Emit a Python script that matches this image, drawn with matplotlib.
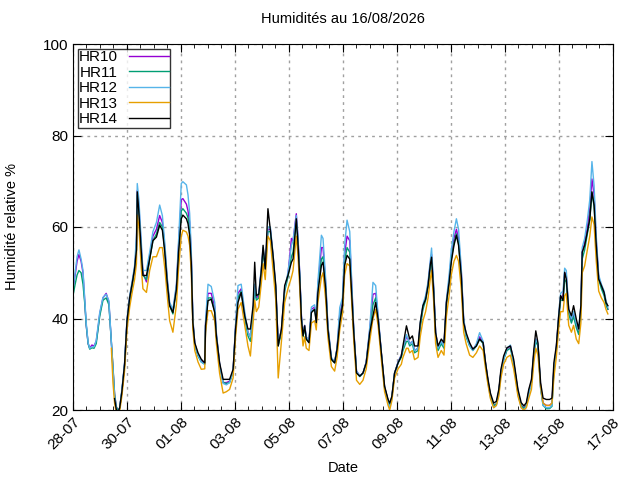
import numpy as np
import pandas as pd
import matplotlib
matplotlib.use("Agg")
import matplotlib.pyplot as plt
import matplotlib.dates as mdates

plt.rcParams['font.family'] = ['Liberation Sans', 'DejaVu Sans']

nan = np.nan

# time in days since 28-07-2026 00:00
t_days = [0.00, 0.08, 0.15, 0.22, 0.30, 0.37, 0.44, 0.49, 0.56, 0.62, 0.70, 0.78, 0.86, 0.93, 0.99,
          1.11, 1.23, 1.33, 1.42, 1.48, 1.54, 1.60, 1.67, 1.73, 1.81, 1.91, 2.00, 2.10, 2.20, 2.28,
          2.35, 2.38, 2.44, 2.53, 2.59, 2.72, 2.84, 2.96, 3.09, 3.21, 3.31, 3.40, 3.49, 3.58, 3.70,
          3.83, 3.91, 4.01, 4.07, 4.20, 4.26, 4.32, 4.38, 4.44, 4.51, 4.63, 4.75, 4.88, 4.91, 5.00,
          5.12, 5.25, 5.31, 5.43, 5.56, 5.68, 5.80, 5.93, 6.02, 6.11, 6.23, 6.36, 6.48, 6.57, 6.67,
          6.73, 6.79, 6.88, 6.98, 7.04, 7.12, 7.22, 7.31, 7.41, 7.51, 7.60, 7.72, 7.84, 7.96, 8.09,
          8.15, 8.27, 8.33, 8.40, 8.46, 8.52, 8.58, 8.64, 8.74, 8.83, 8.95, 9.01, 9.07, 9.20, 9.26,
          9.36, 9.44, 9.57, 9.69, 9.78, 9.88, 9.98, 10.06, 10.15, 10.25, 10.32, 10.40, 10.50, 10.62, 10.74,
          10.86, 10.99, 11.11, 11.21, 11.30, 11.42, 11.54, 11.67, 11.73, 11.81, 11.91, 12.04, 12.16, 12.22, 12.35,
          12.41, 12.47, 12.57, 12.65, 12.78, 12.86, 12.96, 13.06, 13.15, 13.23, 13.28, 13.36, 13.43, 13.52, 13.64,
          13.74, 13.83, 13.93, 14.01, 14.11, 14.20, 14.28, 14.38, 14.47, 14.56, 14.69, 14.81, 14.94, 15.06, 15.19,
          15.28, 15.37, 15.46, 15.58, 15.68, 15.77, 15.85, 15.95, 16.07, 16.20, 16.32, 16.48, 16.60, 16.70, 16.79,
          16.88, 16.98, 17.07, 17.14, 17.22, 17.32, 17.41, 17.53, 17.65, 17.74, 17.81, 17.90, 17.99, 18.06, 18.15,
          18.21, 18.27, 18.36, 18.46, 18.54, 18.64, 18.73, 18.81, 18.86, 18.95, 19.05, 19.14, 19.22, 19.30, 19.38,
          19.47, 19.57, 19.67, 19.74, 19.81]

hr10 = [46.5, 49.5, 52.5, 54.0, 52.5, 50.0, 43.5, 38.5, 34.5, 33.5, 34.2, 34.0, 35.0, 38.0, 41.0,
        44.5, 45.5, 43.5, 35.0, 29.5, 23.5, 20.8, 19.7, 20.5, 24.0, 30.0, 39.5, 44.5, 48.0, 51.0,
        56.0, 68.0, 64.5, 55.5, 50.0, 48.0, 53.5, 58.0, 59.5, 62.5, 61.0, 55.5, 48.5, 43.0, 41.5,
        47.0, 56.0, 66.0, 66.2, 65.0, 63.5, 61.0, 54.0, 39.5, 34.5, 32.0, 30.8, 30.2, 39.0, 45.5,
        45.5, 42.5, 36.5, 30.0, 26.0, 26.0, 26.3, 28.5, 38.0, 45.5, 46.5, 40.8, 37.0, 36.0, 41.5,
        47.0, 44.5, 45.0, 51.0, 55.0, 51.5, 59.5, 59.5, 53.5, 46.5, 34.5, 37.5, 46.5, 49.5, 57.5,
        57.0, 62.9, 58.0, 49.5, 40.5, 36.5, 38.5, 36.0, 35.0, 42.0, 42.5, 40.0, 47.0, 55.5, 55.5,
        47.5, 38.2, 31.3, 30.5, 33.5, 41.0, 43.5, 54.0, 58.0, 57.0, 47.5, 37.2, 28.5, 27.5, 28.0,
        30.5, 37.5, 45.3, 45.5, 40.5, 32.5, 25.0, 22.0, 21.0, 22.8, 28.0, 30.5, 32.0, 33.5, 36.0,
        35.5, 34.5, 35.0, 33.0, 33.5, 38.5, 42.5, 44.5, 47.5, 52.0, 54.0, 46.5, 37.0, 33.5, 35.0,
        34.0, 43.5, 48.5, 53.5, 57.5, 59.5, 57.5, 50.5, 39.5, 36.5, 34.2, 33.2, 34.3, 36.0, 34.8,
        30.2, 26.3, 23.2, 21.0, 21.3, 24.0, 28.3, 31.2, 33.3, 34.0, 30.5, 24.0, 21.0, 20.5, 21.0,
        24.0, 26.3, 32.5, 35.5, 34.2, 25.0, 21.5, 21.0, 21.0, 21.5, 29.0, 33.5, 40.5, 44.5, 45.0,
        50.0, 49.5, 41.5, 39.5, 41.0, 38.5, 37.0, 42.0, 54.5, 56.5, 60.0, 64.0, 70.5, 67.0, 57.0,
        49.0, 47.0, 45.5, 43.5, 42.0]

hr11 = [45.0, 47.5, 49.5, 50.5, 50.0, 47.5, 43.0, 38.5, 34.5, 33.3, 33.6, 33.5, 34.5, 37.8, 40.5,
        44.0, 44.5, 43.0, 35.0, 29.5, 23.5, 20.8, 19.8, 20.5, 24.0, 29.8, 39.0, 44.0, 47.5, 50.8,
        55.0, 67.0, 63.5, 54.5, 49.5, 48.5, 53.0, 57.0, 58.5, 61.0, 60.0, 55.0, 48.0, 42.8, 41.0,
        46.5, 55.0, 63.5, 64.0, 63.0, 62.0, 59.5, 53.0, 39.0, 34.2, 31.8, 30.5, 30.0, 38.5, 44.5,
        44.5, 41.5, 36.0, 29.8, 26.0, 25.8, 26.0, 28.3, 37.5, 44.5, 46.0, 40.2, 36.2, 35.0, 41.0,
        46.5, 44.0, 44.5, 50.5, 54.5, 51.0, 59.0, 59.0, 53.0, 46.0, 34.0, 37.0, 46.0, 49.0, 53.5,
        54.5, 61.5, 57.0, 49.0, 40.0, 36.0, 38.0, 35.5, 34.8, 41.5, 42.0, 39.5, 46.5, 53.0, 53.5,
        47.0, 38.0, 31.0, 30.3, 33.3, 40.0, 43.0, 52.5, 55.5, 54.5, 46.5, 37.0, 28.2, 27.3, 28.0,
        30.3, 37.0, 43.0, 44.5, 40.0, 32.3, 25.0, 22.0, 21.0, 22.8, 28.0, 30.3, 31.5, 33.0, 35.0,
        35.0, 34.0, 34.5, 32.5, 33.0, 38.0, 42.0, 44.0, 47.0, 51.0, 53.0, 46.0, 36.5, 33.0, 34.5,
        33.5, 43.0, 48.0, 53.0, 56.5, 58.5, 56.5, 49.5, 39.0, 36.0, 34.0, 33.0, 34.0, 35.5, 34.5,
        30.0, 26.3, 23.2, 21.0, 21.3, 24.0, 28.3, 31.0, 33.0, 33.5, 30.3, 24.0, 21.0, 20.3, 21.0,
        23.8, 26.0, 32.0, 35.0, 34.0, 24.8, 21.0, 20.3, 20.3, 20.8, 28.5, 33.0, 40.0, 44.0, 44.0,
        48.5, 48.0, 41.0, 39.0, 40.5, 38.0, 36.5, 41.5, 53.0, 55.0, 58.5, 61.5, 67.5, 64.5, 56.0,
        48.5, 46.5, 45.0, 43.0, 42.0]

hr12 = [46.5, 50.0, 53.5, 55.0, 53.0, 50.5, 44.0, 39.0, 34.7, 33.5, 33.8, 33.8, 35.2, 38.5, 41.3,
        44.6, 45.3, 43.9, 34.7, 28.9, 23.0, 20.4, 19.5, 20.4, 24.5, 30.3, 40.0, 45.0, 48.5, 51.5,
        58.0, 69.5, 66.0, 56.5, 50.5, 50.5, 54.5, 59.0, 61.0, 64.8, 62.5, 56.5, 49.0, 43.5, 42.0,
        47.5, 57.0, 69.5, 69.9, 69.2, 67.0, 63.0, 55.0, 40.0, 34.5, 32.0, 30.5, 30.0, 39.5, 47.5,
        47.0, 43.5, 37.0, 30.0, 25.8, 25.5, 26.0, 28.5, 38.5, 47.2, 47.5, 41.5, 37.0, 36.0, 42.0,
        47.5, 45.0, 45.5, 51.5, 55.5, 52.0, 60.0, 60.0, 54.0, 47.0, 34.5, 37.5, 46.5, 50.0, 56.0,
        57.0, 62.5, 58.0, 49.5, 40.5, 36.5, 38.5, 36.0, 35.0, 42.5, 43.0, 40.5, 48.0, 58.2, 57.5,
        48.5, 38.5, 31.5, 30.5, 33.5, 42.4, 44.5, 56.0, 61.5, 59.0, 48.5, 37.5, 28.5, 27.5, 28.0,
        30.5, 38.0, 47.9, 47.2, 41.0, 32.5, 24.8, 21.5, 20.5, 22.5, 28.0, 30.5, 32.0, 33.5, 36.5,
        35.5, 34.5, 35.0, 33.0, 33.5, 39.0, 43.0, 45.0, 48.0, 52.5, 55.4, 47.0, 37.0, 33.5, 35.0,
        34.0, 44.0, 49.5, 55.0, 59.0, 61.8, 59.5, 51.0, 40.0, 36.5, 34.0, 33.0, 34.5, 36.9, 35.0,
        30.0, 26.0, 22.8, 20.5, 21.0, 23.5, 28.0, 31.0, 33.5, 34.2, 30.5, 23.5, 20.5, 20.0, 20.8,
        23.5, 26.0, 32.5, 35.5, 34.5, 24.5, 21.0, 20.5, 20.5, 21.0, 29.0, 33.5, 41.0, 45.5, 46.0,
        51.0, 50.5, 42.0, 40.0, 41.5, 39.0, 37.5, 42.5, 55.5, 57.5, 61.5, 66.0, 74.3, 69.0, 58.0,
        49.5, 47.5, 46.0, 44.0, 42.5]

hr13 = [nan, nan, nan, nan, nan, nan, nan, nan, nan, nan, nan, nan, nan, nan, nan,
        nan, nan, nan, 33.5, 26.0, 21.5, 19.5, 19.0, 19.8, 23.0, 28.5, 37.5, 42.5, 46.0, 48.5,
        52.0, 62.6, 60.0, 51.0, 46.5, 45.7, 50.5, 53.5, 53.5, 55.5, 55.5, 51.0, 45.0, 39.5, 37.0,
        43.0, 51.0, 58.0, 59.3, 58.9, 58.0, 56.0, 50.0, 37.5, 33.0, 30.5, 28.9, 29.0, 37.0, 41.7,
        41.7, 39.5, 34.5, 28.0, 23.7, 24.0, 24.5, 27.0, 36.0, 42.0, 43.5, 38.5, 34.0, 31.8, 39.0,
        44.0, 41.5, 42.5, 48.0, 52.0, 48.5, 58.0, 57.0, 50.5, 44.0, 27.0, 35.0, 43.5, 46.5, 49.0,
        50.5, 58.0, 54.0, 46.5, 38.0, 34.0, 36.0, 33.5, 33.0, 39.0, 39.5, 37.5, 43.5, 49.0, 50.0,
        44.0, 36.0, 29.5, 28.5, 31.5, 37.5, 41.0, 49.5, 52.0, 51.5, 44.0, 35.0, 26.5, 25.6, 26.5,
        29.0, 35.0, 40.0, 42.0, 38.5, 31.0, 24.0, 21.0, 20.0, 22.0, 27.0, 29.0, 30.0, 31.5, 33.5,
        33.5, 32.5, 33.0, 31.0, 31.5, 36.0, 39.5, 41.5, 44.5, 48.5, 50.5, 43.5, 34.5, 31.5, 33.0,
        32.0, 40.5, 45.0, 49.5, 52.5, 53.8, 52.5, 46.5, 37.0, 34.5, 32.0, 31.5, 32.5, 34.0, 33.0,
        29.0, 25.5, 22.5, 20.5, 21.0, 23.0, 27.0, 30.0, 31.5, 32.0, 29.0, 23.0, 20.5, 20.0, 20.5,
        22.5, 24.5, 30.5, 33.5, 32.0, 25.0, 21.5, 21.0, 21.0, 21.5, 27.0, 31.5, 38.0, 41.5, 41.5,
        45.0, 45.5, 38.5, 37.0, 38.5, 35.5, 34.5, 39.0, 50.0, 51.5, 55.0, 58.0, 62.2, 60.5, 52.5,
        46.0, 44.5, 43.5, 42.0, 41.0]

hr14 = [nan, nan, nan, nan, nan, nan, nan, nan, nan, nan, nan, nan, nan, nan, nan,
        nan, nan, nan, nan, nan, 22.5, 20.2, 19.5, 20.5, 24.0, 30.0, 39.5, 44.6, 47.9, 50.8,
        55.0, 67.7, 63.3, 54.5, 49.4, 49.4, 53.0, 57.0, 57.8, 60.4, 59.3, 54.5, 47.9, 42.8, 41.3,
        46.4, 54.5, 61.8, 62.6, 61.8, 60.7, 58.2, 52.3, 39.1, 34.7, 32.5, 31.1, 30.3, 38.4, 43.9,
        44.2, 41.3, 36.2, 30.3, 26.7, 26.7, 26.7, 28.9, 37.7, 43.5, 45.7, 40.6, 37.7, 37.7, 42.8,
        52.3, 45.0, 45.3, 50.8, 56.0, 50.8, 64.0, 59.3, 53.8, 47.2, 34.0, 37.7, 47.2, 49.4, 52.3,
        53.0, 61.8, 56.7, 48.6, 39.9, 36.2, 38.4, 35.5, 34.7, 41.3, 42.0, 39.1, 45.7, 51.6, 52.3,
        46.4, 37.7, 31.1, 30.3, 33.3, 39.1, 42.8, 51.6, 53.8, 53.0, 45.7, 36.9, 28.1, 27.4, 28.1,
        30.3, 36.9, 40.6, 43.5, 39.9, 32.5, 25.2, 22.3, 21.5, 23.0, 28.1, 30.3, 31.8, 34.0, 38.4,
        36.9, 35.5, 36.2, 34.0, 34.0, 39.1, 42.8, 44.2, 47.2, 51.6, 53.4, 45.7, 36.9, 34.0, 35.5,
        34.7, 43.5, 47.9, 52.3, 56.0, 58.2, 56.0, 49.4, 39.1, 36.9, 34.7, 33.3, 34.0, 35.5, 34.7,
        30.3, 26.7, 23.7, 21.5, 21.9, 24.5, 28.9, 31.8, 33.6, 34.0, 31.1, 24.5, 21.6, 20.9, 21.6,
        24.5, 26.7, 33.3, 37.3, 34.7, 25.9, 22.6, 22.3, 22.3, 22.6, 30.3, 34.0, 40.6, 45.0, 43.9,
        50.1, 48.6, 42.0, 40.6, 42.8, 39.9, 37.7, 42.8, 54.5, 56.0, 58.9, 61.8, 67.7, 64.8, 56.0,
        48.6, 47.2, 45.7, 43.5, 42.8]

names = ['HR10', 'HR11', 'HR12', 'HR13', 'HR14']
colors = ['#9400D3', '#009E73', '#56B4E9', '#E69F00', '#000000']

start = pd.Timestamp('2026-07-28')
dates = start + pd.to_timedelta(t_days, unit='D')

fig = plt.figure(figsize=(6.4, 4.8), dpi=100)
ax = fig.add_axes([73/640, 1-410/480, 540/640, 366/480])

for name, vals, col in zip(names, [hr10, hr11, hr12, hr13, hr14], colors):
    ax.plot(dates, vals, color=col, lw=1.0, label=name)

ax.set_xlim(start, start + pd.Timedelta(days=20))
ax.set_ylim(20, 100)
ax.set_yticks([20, 40, 60, 80, 100])
ax.xaxis.set_major_locator(mdates.DayLocator(interval=2))
ax.xaxis.set_minor_locator(mdates.HourLocator(byhour=[0, 12]))
ax.xaxis.set_major_formatter(mdates.DateFormatter('%d-%m'))
for lab in ax.get_xticklabels():
    lab.set_rotation(45)
    lab.set_ha('right')
    lab.set_rotation_mode('anchor')

ax.tick_params(which='both', direction='in', top=True, right=True, labelsize=11)
ax.tick_params(which='major', length=6)
ax.tick_params(which='minor', length=3)
ax.grid(True, which='major', color='#a0a0a0', linestyle=(0, (2, 3)), lw=1)

ax.set_title('Humidités au 16/08/2026', fontsize=10.5, pad=15)
ax.set_xlabel('Date', fontsize=10.5, labelpad=6)
ax.set_ylabel('Humidité relative %', fontsize=10.5, labelpad=17)

leg = ax.legend(loc='upper left', markerfirst=False, fontsize=11, frameon=True,
                fancybox=False, borderaxespad=0.3, handlelength=2.6,
                labelspacing=0.1, borderpad=0.1, handletextpad=0.7)
leg.get_frame().set_edgecolor('black')
leg.get_frame().set_linewidth(1.0)

fig.savefig('out.png', dpi=100)
